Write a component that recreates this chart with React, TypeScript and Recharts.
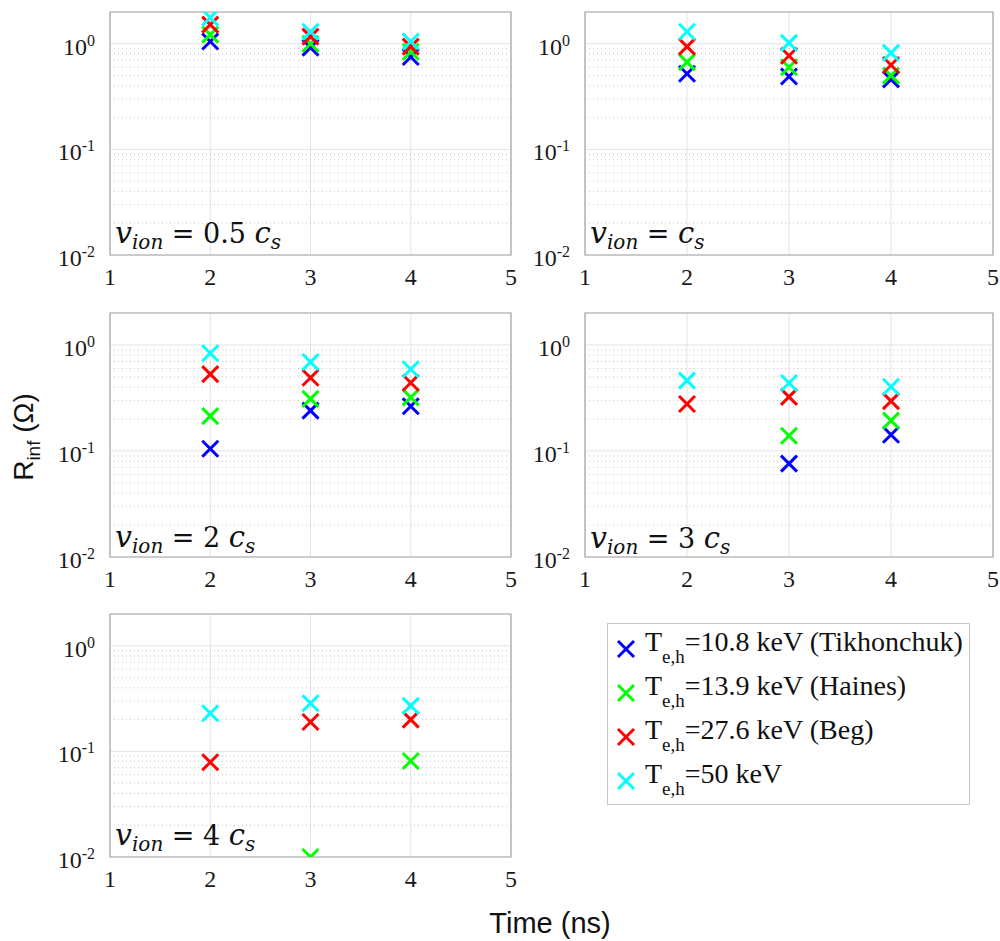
import { ScatterChart, Scatter, XAxis, YAxis, CartesianGrid, ReferenceLine, ReferenceArea } from 'recharts';

// Time (ns) of the three simulation snapshots
const times = [2, 3, 4];
const xTicks = [1, 2, 3, 4, 5];
const yTicks = [0.01, 0.1, 1];
const minorTicks = [0.02, 0.03, 0.04, 0.05, 0.06, 0.07, 0.08, 0.09, 0.2, 0.3, 0.4, 0.5, 0.6, 0.7, 0.8, 0.9];

const seriesLabels = ['=10.8 keV (Tikhonchuk)', '=13.9 keV (Haines)', '=27.6 keV (Beg)', '=50 keV'];
const seriesColors = ['#0000ff', '#00ff00', '#ff0000', '#00ffff'];

// R_inf per series (Tikhonchuk, Haines, Beg, 50 keV) at t = 2, 3, 4 ns
const v05 = [
  [1.05, 0.92, 0.75],
  [1.22, 1.0, 0.84],
  [1.52, 1.17, 0.94],
  [1.77, 1.3, 1.05],
];
const v1 = [
  [0.52, 0.49, 0.46],
  [0.67, 0.6, 0.5],
  [0.94, 0.77, 0.63],
  [1.3, 1.02, 0.82],
];
const v2 = [
  [0.105, 0.24, 0.264],
  [0.213, 0.31, 0.32],
  [0.53, 0.49, 0.44],
  [0.835, 0.69, 0.59],
];
const v3 = [
  [null, 0.076, 0.142],
  [null, 0.139, 0.193],
  [0.277, 0.324, 0.295],
  [0.46, 0.437, 0.403],
];
const v4 = [
  [null, null, null],
  [null, 0.01, 0.081],
  [0.079, 0.19, 0.2],
  [0.23, 0.286, 0.27],
];

const serif = 'Liberation Serif';
const mathFont = 'DejaVu Serif';
const sans = 'Liberation Sans';

const XMark = (props: any) => {
  const { cx, cy, fill } = props;
  const s = 8;
  return (
    <g stroke={fill} strokeWidth={3}>
      <line x1={cx - s} y1={cy - s} x2={cx + s} y2={cy + s} />
      <line x1={cx - s} y1={cy + s} x2={cx + s} y2={cy - s} />
    </g>
  );
};

const XTick = (props: any) => {
  const { x, y, payload } = props;
  return (
    <text x={x} y={y} dy={22} textAnchor="middle" style={{ fontFamily: serif, fontSize: 24 }} fill="#1a1a1a">
      {payload.value}
    </text>
  );
};

const YTick = (props: any) => {
  const { x, y, payload } = props;
  const exp = Math.round(Math.log10(payload.value));
  return (
    <text x={x - 7} y={y} dy={11} textAnchor="end" style={{ fontFamily: serif, fontSize: 24 }} fill="#1a1a1a">
      10
      <tspan dy={-9} style={{ fontFamily: serif, fontSize: 16 }}>{exp}</tspan>
    </text>
  );
};

function Panel({ values, left, top, width, height, yWidth, mTop, mRight }: any) {
  return (
    <div style={{ position: 'absolute', left, top }}>
      <ScatterChart width={width} height={height} margin={{ top: mTop, right: mRight, bottom: 0, left: 0 }}>
        <CartesianGrid stroke="#e4e4e4" />
        {minorTicks.map((v) => (
          <ReferenceLine key={v} y={v} stroke="#c4c4c4" strokeDasharray="1 3" />
        ))}
        <XAxis
          type="number"
          dataKey="t"
          domain={[1, 5]}
          ticks={xTicks}
          height={40}
          axisLine={false}
          tickLine={false}
          tick={<XTick />}
        />
        <YAxis
          type="number"
          dataKey="r"
          scale="log"
          domain={[0.01, 2]}
          ticks={yTicks}
          allowDataOverflow
          width={yWidth}
          axisLine={false}
          tickLine={false}
          tick={<YTick />}
        />
        <ReferenceArea x1={1} x2={5} y1={0.01} y2={2} fill="none" stroke="#a6a6a6" strokeWidth={1.2} />
        {values.map((row: (number | null)[], i: number) => (
          <Scatter
            key={i}
            data={times.map((t, j) => ({ t, r: row[j] })).filter((d) => d.r !== null)}
            fill={seriesColors[i]}
            shape={<XMark />}
            isAnimationActive={false}
          />
        ))}
      </ScatterChart>
    </div>
  );
}

function Label({ x, y, k }: { x: number; y: number; k: string }) {
  const it = { fontFamily: mathFont, fontStyle: 'italic' };
  return (
    <text x={x} y={y} style={{ fontFamily: mathFont, fontSize: 27 }} fill="#111">
      <tspan style={{ ...it, fontSize: 30 }}>v</tspan>
      <tspan style={{ ...it, fontSize: 20 }} dy={6}>ion</tspan>
      <tspan dy={-6}>{` = ${k}`}</tspan>
      <tspan style={{ ...it, fontSize: 29 }}>c</tspan>
      <tspan style={{ ...it, fontSize: 20 }} dy={6}>s</tspan>
    </text>
  );
}

export default function App() {
  return (
    <div style={{ position: 'absolute', left: 0, top: 0, width: 1000, height: 941, background: '#fff' }}>
      <Panel values={v05} left={0} top={0} width={530} height={295} yWidth={110} mTop={12} mRight={19} />
      <Panel values={v1} left={500} top={0} width={500} height={295} yWidth={85} mTop={12} mRight={7} />
      <Panel values={v2} left={0} top={290} width={530} height={307} yWidth={110} mTop={23} mRight={19} />
      <Panel values={v3} left={500} top={290} width={500} height={307} yWidth={85} mTop={23} mRight={7} />
      <Panel values={v4} left={0} top={580} width={530} height={317} yWidth={110} mTop={34} mRight={19} />
      <svg width={1000} height={941} style={{ position: 'absolute', left: 0, top: 0, pointerEvents: 'none' }}>
        <Label x={115} y={243} k="0.5 " />
        <Label x={590} y={243} k="" />
        <Label x={115} y={547} k="2 " />
        <Label x={590} y={548} k="3 " />
        <Label x={115} y={845} k="4 " />
        <text transform="rotate(-90, 33, 437)" x={33} y={437} textAnchor="middle" style={{ fontFamily: sans, fontSize: 28 }} fill="#111">
          R<tspan style={{ fontSize: 19 }} dy={7}>inf</tspan>
          <tspan dy={-7}> (Ω)</tspan>
        </text>
        <text x={550} y={933} textAnchor="middle" style={{ fontFamily: sans, fontSize: 29 }} fill="#111">
          Time (ns)
        </text>
        <g transform="translate(607, 623)">
          <rect x={0.5} y={0.5} width={362} height={181} fill="#fff" stroke="#c8c8c8" />
          {seriesLabels.map((label, i) => (
            <g key={label}>
              <XMark cx={19} cy={26 + i * 44} fill={seriesColors[i]} />
              <text x={38} y={28 + i * 44} style={{ fontFamily: serif, fontSize: 28 }} fill="#111">
                T<tspan style={{ fontSize: 19 }} dy={12}>e,h</tspan>
                <tspan dy={-12}>{label}</tspan>
              </text>
            </g>
          ))}
        </g>
      </svg>
    </div>
  );
}
